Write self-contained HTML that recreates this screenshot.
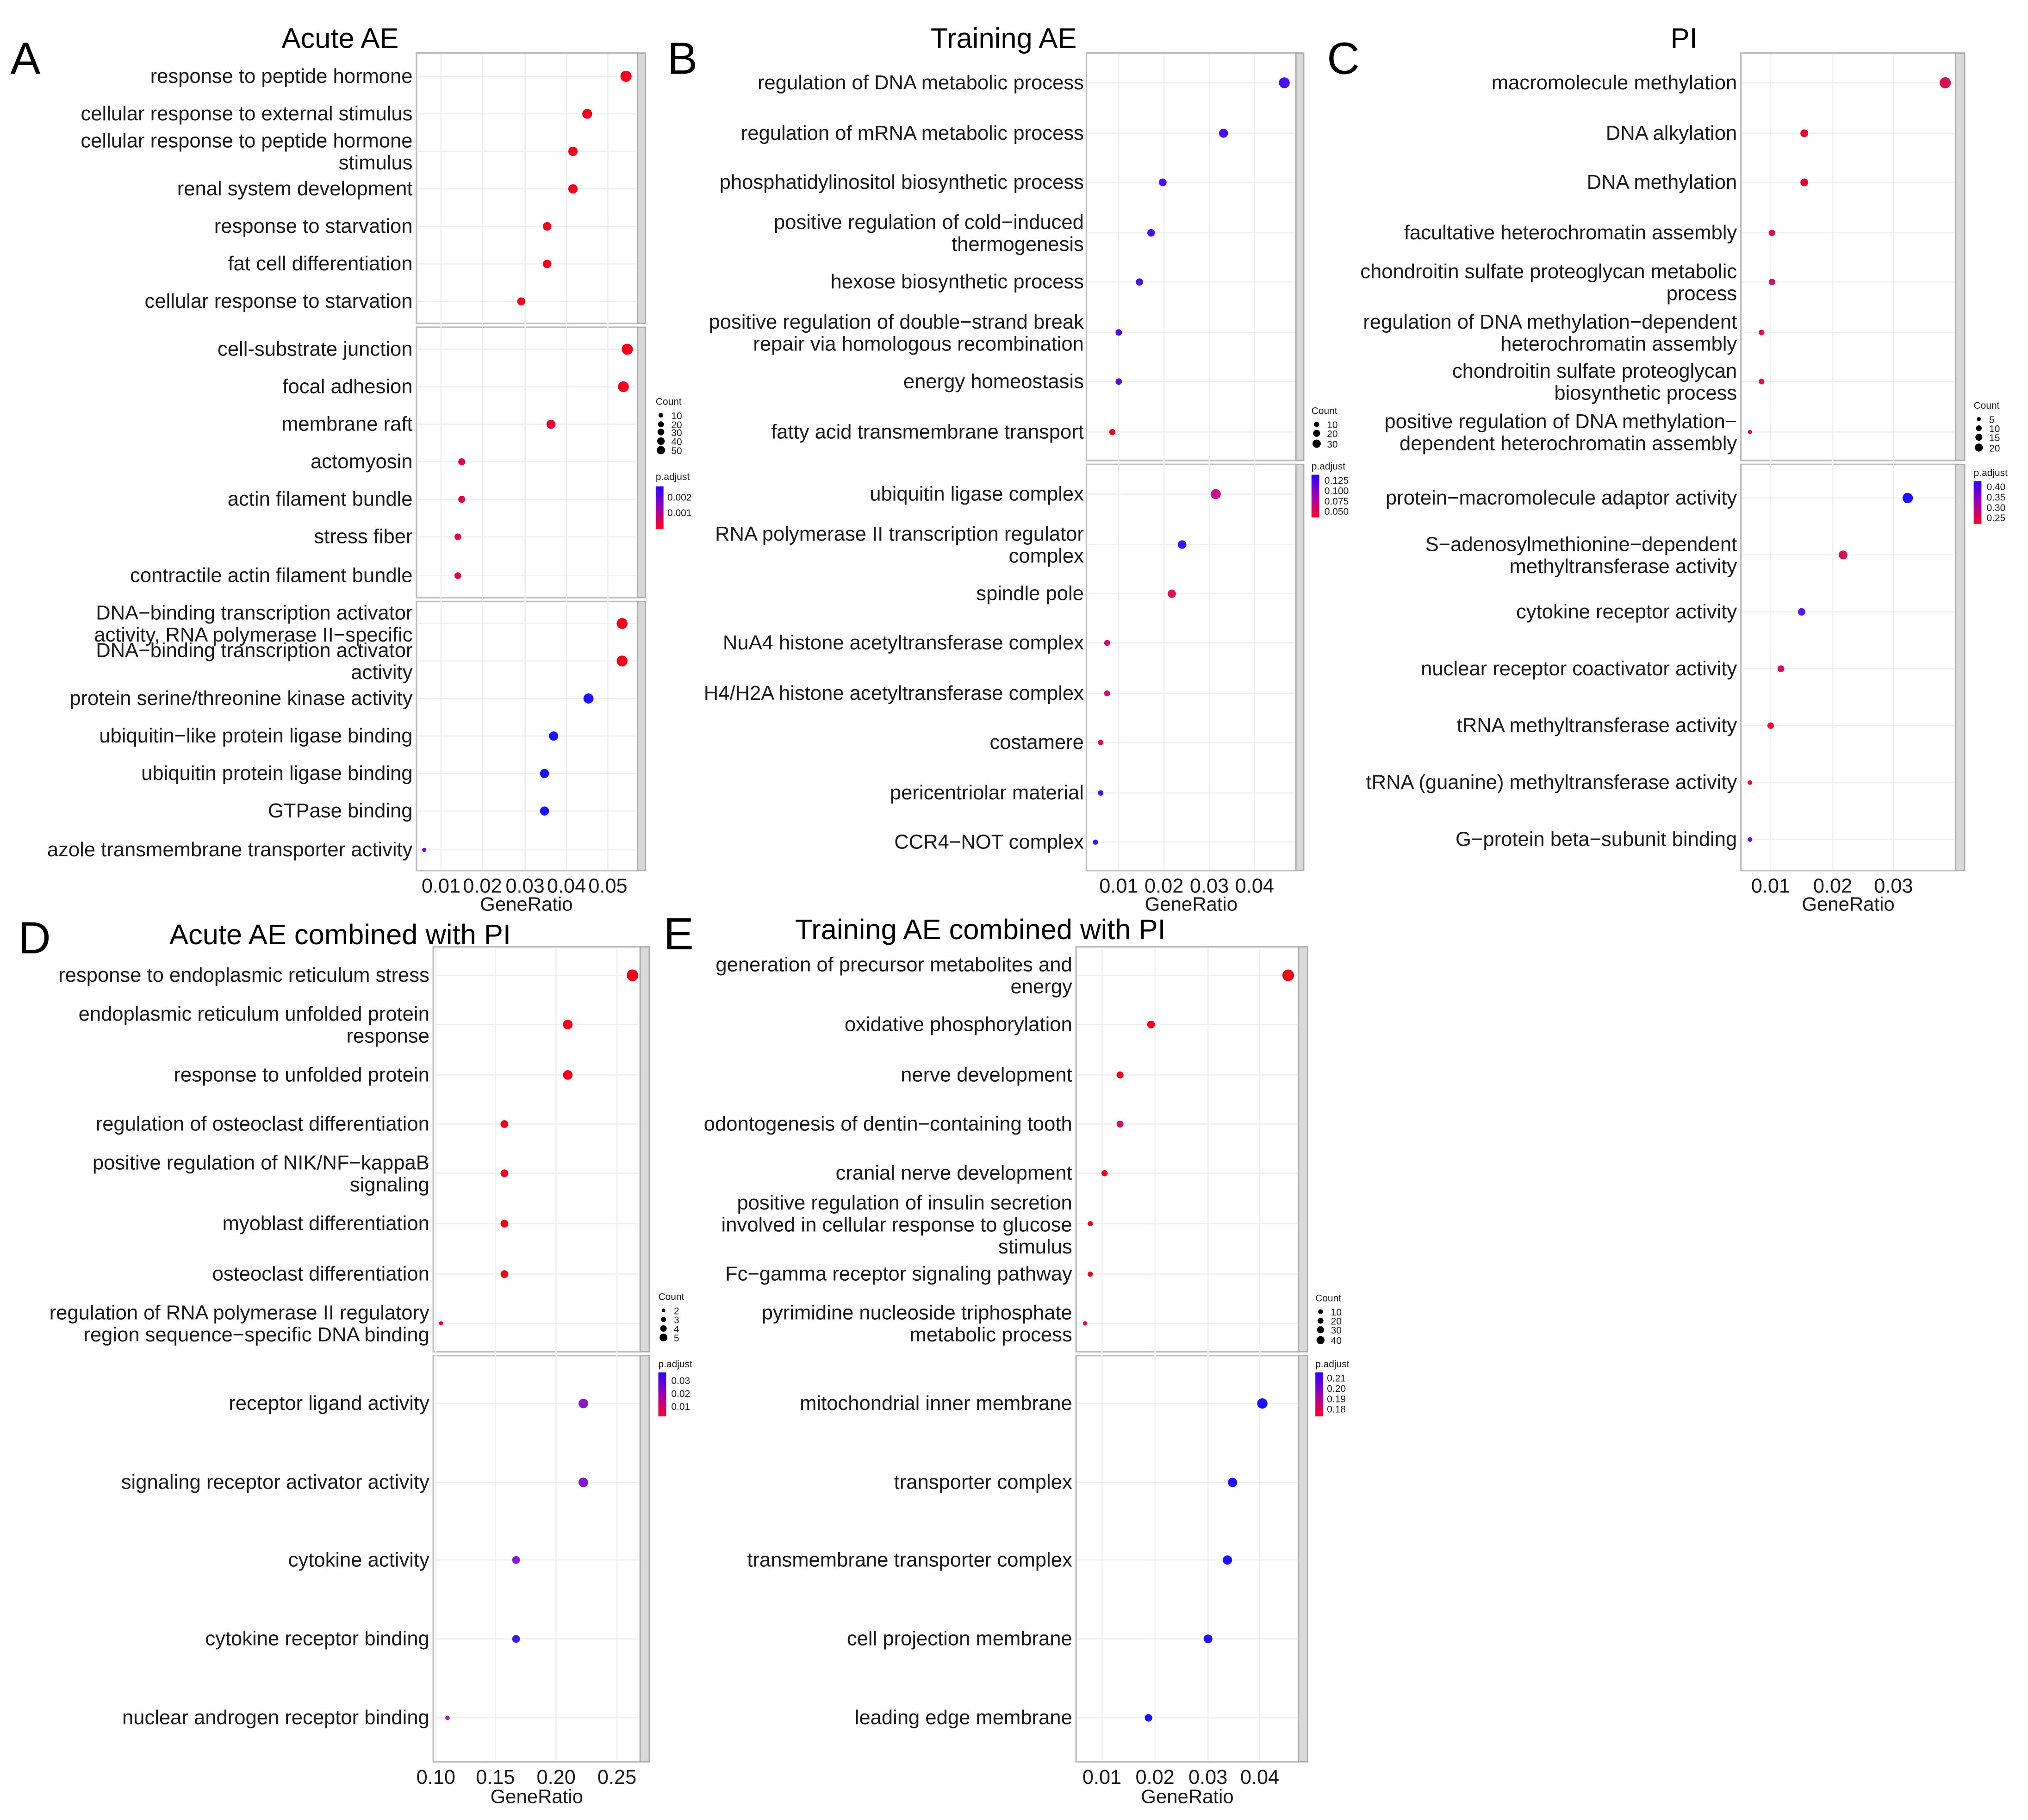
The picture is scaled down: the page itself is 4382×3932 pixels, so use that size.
<!DOCTYPE html>
<html><head><meta charset="utf-8"><style>
html,body{margin:0;padding:0;background:#fff;}
svg{display:block}
text{font-family:"Liberation Sans",Arial,sans-serif;fill:#1a1a1a}
.l{font-size:15.6px;text-anchor:end}
.t{font-size:22px;text-anchor:middle;fill:#000}
.k{font-size:15.5px;text-anchor:middle}
.x{font-size:15px;text-anchor:middle}
.P{font-size:35px;fill:#000}
.g{font-size:7.5px}
.pn{fill:#fff;stroke:#bdbdbd;stroke-width:1.2}
.st{fill:#d9d9d9;stroke:#ababab;stroke-width:1}
.gr{stroke:#f0f0f0;stroke-width:1}
</style></head><body>
<svg width="4382" height="3932" viewBox="0 0 1568 1407" preserveAspectRatio="none" xmlns="http://www.w3.org/2000/svg">
<defs>
<linearGradient id="pg" x1="0" y1="0" x2="0" y2="1"><stop offset="0" stop-color="#2a00ff"/><stop offset="0.5" stop-color="#a000b0"/><stop offset="1" stop-color="#ff0020"/></linearGradient>
</defs>
<rect width="1568" height="1407" fill="#fff"/>

<!-- ===== Panel A ===== -->
<text class="P" x="8" y="57">A</text>
<text class="t" x="263" y="37">Acute AE</text>
<rect class="pn" x="322" y="41" width="171" height="209"/><rect class="st" x="493" y="41" width="6" height="209"/>
<rect class="pn" x="322" y="253" width="171" height="209"/><rect class="st" x="493" y="253" width="6" height="209"/>
<rect class="pn" x="322" y="465" width="171" height="208"/><rect class="st" x="493" y="465" width="6" height="208"/>
<g class="gr">
<line x1="341" y1="42" x2="341" y2="672"/><line x1="373" y1="42" x2="373" y2="672"/><line x1="406" y1="42" x2="406" y2="672"/><line x1="438" y1="42" x2="438" y2="672"/><line x1="470" y1="42" x2="470" y2="672"/>
<line x1="323" y1="59" x2="492" y2="59"/><line x1="323" y1="88" x2="492" y2="88"/><line x1="323" y1="117" x2="492" y2="117"/><line x1="323" y1="146" x2="492" y2="146"/><line x1="323" y1="175" x2="492" y2="175"/><line x1="323" y1="204" x2="492" y2="204"/><line x1="323" y1="233" x2="492" y2="233"/>
<line x1="323" y1="270" x2="492" y2="270"/><line x1="323" y1="299" x2="492" y2="299"/><line x1="323" y1="328" x2="492" y2="328"/><line x1="323" y1="357" x2="492" y2="357"/><line x1="323" y1="386" x2="492" y2="386"/><line x1="323" y1="415" x2="492" y2="415"/><line x1="323" y1="445" x2="492" y2="445"/>
<line x1="323" y1="482" x2="492" y2="482"/><line x1="323" y1="511" x2="492" y2="511"/><line x1="323" y1="540" x2="492" y2="540"/><line x1="323" y1="569" x2="492" y2="569"/><line x1="323" y1="598" x2="492" y2="598"/><line x1="323" y1="627" x2="492" y2="627"/><line x1="323" y1="657" x2="492" y2="657"/>
</g>
<text class="l" x="319" y="64">response to peptide hormone</text>
<text class="l" x="319" y="93">cellular response to external stimulus</text>
<text class="l" x="319" y="114">cellular response to peptide hormone</text>
<text class="l" x="319" y="131">stimulus</text>
<text class="l" x="319" y="151">renal system development</text>
<text class="l" x="319" y="180">response to starvation</text>
<text class="l" x="319" y="209">fat cell differentiation</text>
<text class="l" x="319" y="238">cellular response to starvation</text>
<text class="l" x="319" y="275">cell-substrate junction</text>
<text class="l" x="319" y="304">focal adhesion</text>
<text class="l" x="319" y="333">membrane raft</text>
<text class="l" x="319" y="362">actomyosin</text>
<text class="l" x="319" y="391">actin filament bundle</text>
<text class="l" x="319" y="420">stress fiber</text>
<text class="l" x="319" y="450">contractile actin filament bundle</text>
<text class="l" x="319" y="479">DNA−binding transcription activator</text>
<text class="l" x="319" y="496">activity, RNA polymerase II−specific</text>
<text class="l" x="319" y="508">DNA−binding transcription activator</text>
<text class="l" x="319" y="525">activity</text>
<text class="l" x="319" y="545">protein serine/threonine kinase activity</text>
<text class="l" x="319" y="574">ubiquitin−like protein ligase binding</text>
<text class="l" x="319" y="603">ubiquitin protein ligase binding</text>
<text class="l" x="319" y="632">GTPase binding</text>
<text class="l" x="319" y="662">azole transmembrane transporter activity</text>
<g>
<circle cx="484" cy="59" r="4.3" fill="#f2001c"/><circle cx="454" cy="88" r="3.8" fill="#f2001c"/><circle cx="443" cy="117" r="3.6" fill="#f2001c"/><circle cx="443" cy="146" r="3.6" fill="#f2001c"/><circle cx="423" cy="175" r="3.3" fill="#f2001c"/><circle cx="423" cy="204" r="3.3" fill="#f2001c"/><circle cx="403" cy="233" r="3.1" fill="#f2001c"/>
<circle cx="485" cy="270" r="4.3" fill="#f2001c"/><circle cx="482" cy="299" r="4.2" fill="#f2001c"/><circle cx="426" cy="328" r="3.5" fill="#e80035"/><circle cx="357" cy="357" r="2.7" fill="#e0004c"/><circle cx="357" cy="386" r="2.7" fill="#e0004c"/><circle cx="354" cy="415" r="2.6" fill="#e0004c"/><circle cx="354" cy="445" r="2.6" fill="#e0004c"/>
<circle cx="481" cy="482" r="4.2" fill="#f2001c"/><circle cx="481" cy="511" r="4.2" fill="#f2001c"/><circle cx="455" cy="540" r="3.9" fill="#1a12ff"/><circle cx="428" cy="569" r="3.6" fill="#1a12ff"/><circle cx="421" cy="598" r="3.5" fill="#1a12ff"/><circle cx="421" cy="627" r="3.5" fill="#1a12ff"/><circle cx="328" cy="657" r="1.6" fill="#8000e0"/>
</g>
<g class="k"><text x="341" y="690">0.01</text><text x="373" y="690">0.02</text><text x="406" y="690">0.03</text><text x="438" y="690">0.04</text><text x="470" y="690">0.05</text></g>
<text class="x" x="407" y="704">GeneRatio</text>
<text class="g" x="507" y="313">Count</text>
<g class="g"><circle cx="511" cy="321" r="1.8" fill="#000"/><text x="519" y="324">10</text><circle cx="511" cy="328" r="2.3" fill="#000"/><text x="519" y="331">20</text><circle cx="511" cy="334" r="2.6" fill="#000"/><text x="519" y="337">30</text><circle cx="511" cy="341" r="2.9" fill="#000"/><text x="519" y="344">40</text><circle cx="511" cy="348" r="3.2" fill="#000"/><text x="519" y="351">50</text></g>
<text class="g" x="507" y="371">p.adjust</text><rect x="507" y="376" width="6" height="33" fill="url(#pg)"/>
<text class="g" x="516" y="387">0.002</text><text class="g" x="516" y="399">0.001</text>

<!-- ===== Panel B ===== -->
<text class="P" x="516" y="57">B</text>
<text class="t" x="776" y="37">Training AE</text>
<rect class="pn" x="840" y="41" width="162" height="315"/><rect class="st" x="1002" y="41" width="6" height="315"/>
<rect class="pn" x="840" y="359" width="162" height="314"/><rect class="st" x="1002" y="359" width="6" height="314"/>
<g class="gr">
<line x1="865" y1="42" x2="865" y2="672"/><line x1="900" y1="42" x2="900" y2="672"/><line x1="935" y1="42" x2="935" y2="672"/><line x1="970" y1="42" x2="970" y2="672"/>
<line x1="841" y1="64" x2="1001" y2="64"/><line x1="841" y1="103" x2="1001" y2="103"/><line x1="841" y1="141" x2="1001" y2="141"/><line x1="841" y1="180" x2="1001" y2="180"/><line x1="841" y1="218" x2="1001" y2="218"/><line x1="841" y1="257" x2="1001" y2="257"/><line x1="841" y1="295" x2="1001" y2="295"/><line x1="841" y1="334" x2="1001" y2="334"/>
<line x1="841" y1="382" x2="1001" y2="382"/><line x1="841" y1="421" x2="1001" y2="421"/><line x1="841" y1="459" x2="1001" y2="459"/><line x1="841" y1="497" x2="1001" y2="497"/><line x1="841" y1="536" x2="1001" y2="536"/><line x1="841" y1="574" x2="1001" y2="574"/><line x1="841" y1="613" x2="1001" y2="613"/><line x1="841" y1="651" x2="1001" y2="651"/>
</g>
<text class="l" x="838" y="69">regulation of DNA metabolic process</text>
<text class="l" x="838" y="108">regulation of mRNA metabolic process</text>
<text class="l" x="838" y="146">phosphatidylinositol biosynthetic process</text>
<text class="l" x="838" y="177">positive regulation of cold−induced</text>
<text class="l" x="838" y="194">thermogenesis</text>
<text class="l" x="838" y="223">hexose biosynthetic process</text>
<text class="l" x="838" y="254">positive regulation of double−strand break</text>
<text class="l" x="838" y="271">repair via homologous recombination</text>
<text class="l" x="838" y="300">energy homeostasis</text>
<text class="l" x="838" y="339">fatty acid transmembrane transport</text>
<text class="l" x="838" y="387">ubiquitin ligase complex</text>
<text class="l" x="838" y="418">RNA polymerase II transcription regulator</text>
<text class="l" x="838" y="435">complex</text>
<text class="l" x="838" y="464">spindle pole</text>
<text class="l" x="838" y="502">NuA4 histone acetyltransferase complex</text>
<text class="l" x="838" y="541">H4/H2A histone acetyltransferase complex</text>
<text class="l" x="838" y="579">costamere</text>
<text class="l" x="838" y="618">pericentriolar material</text>
<text class="l" x="838" y="656">CCR4−NOT complex</text>
<g>
<circle cx="993" cy="64" r="4.2" fill="#4a0cf0"/><circle cx="946" cy="103" r="3.5" fill="#4a0cf0"/><circle cx="899" cy="141" r="3" fill="#4a0cf0"/><circle cx="890" cy="180" r="2.9" fill="#4a0cf0"/><circle cx="881" cy="218" r="2.8" fill="#4a0cf0"/><circle cx="865" cy="257" r="2.5" fill="#4a0cf0"/><circle cx="865" cy="295" r="2.5" fill="#5a0ce0"/><circle cx="860" cy="334" r="2.4" fill="#f0001f"/>
<circle cx="940" cy="382" r="3.9" fill="#c8108a"/><circle cx="914" cy="421" r="3.3" fill="#2a18ff"/><circle cx="906" cy="459" r="3.2" fill="#e0104a"/><circle cx="856" cy="497" r="2.3" fill="#d01070"/><circle cx="856" cy="536" r="2.3" fill="#d01070"/><circle cx="851" cy="574" r="2.1" fill="#e0104a"/><circle cx="851" cy="613" r="2.1" fill="#3a18ff"/><circle cx="847" cy="651" r="2" fill="#3a18ff"/>
</g>
<g class="k"><text x="865" y="690">0.01</text><text x="900" y="690">0.02</text><text x="935" y="690">0.03</text><text x="970" y="690">0.04</text></g>
<text class="x" x="921" y="704">GeneRatio</text>
<text class="g" x="1014" y="320">Count</text>
<g class="g"><circle cx="1018" cy="328" r="2" fill="#000"/><text x="1026" y="331">10</text><circle cx="1018" cy="335" r="2.7" fill="#000"/><text x="1026" y="338">20</text><circle cx="1018" cy="343" r="3.2" fill="#000"/><text x="1026" y="346">30</text></g>
<text class="g" x="1014" y="363">p.adjust</text><rect x="1014" y="367" width="6" height="33" fill="url(#pg)"/>
<text class="g" x="1024" y="374">0.125</text><text class="g" x="1024" y="382">0.100</text><text class="g" x="1024" y="390">0.075</text><text class="g" x="1024" y="398">0.050</text>

<!-- ===== Panel C ===== -->
<text class="P" x="1026" y="57">C</text>
<text class="t" x="1302" y="37">PI</text>
<rect class="pn" x="1346" y="41" width="166" height="315"/><rect class="st" x="1512" y="41" width="7" height="315"/>
<rect class="pn" x="1346" y="359" width="166" height="314"/><rect class="st" x="1512" y="359" width="7" height="314"/>
<g class="gr">
<line x1="1369" y1="42" x2="1369" y2="672"/><line x1="1417" y1="42" x2="1417" y2="672"/><line x1="1464" y1="42" x2="1464" y2="672"/>
<line x1="1347" y1="64" x2="1511" y2="64"/><line x1="1347" y1="103" x2="1511" y2="103"/><line x1="1347" y1="141" x2="1511" y2="141"/><line x1="1347" y1="180" x2="1511" y2="180"/><line x1="1347" y1="218" x2="1511" y2="218"/><line x1="1347" y1="257" x2="1511" y2="257"/><line x1="1347" y1="295" x2="1511" y2="295"/><line x1="1347" y1="334" x2="1511" y2="334"/>
<line x1="1347" y1="385" x2="1511" y2="385"/><line x1="1347" y1="429" x2="1511" y2="429"/><line x1="1347" y1="473" x2="1511" y2="473"/><line x1="1347" y1="517" x2="1511" y2="517"/><line x1="1347" y1="561" x2="1511" y2="561"/><line x1="1347" y1="605" x2="1511" y2="605"/><line x1="1347" y1="649" x2="1511" y2="649"/>
</g>
<text class="l" x="1343" y="69">macromolecule methylation</text>
<text class="l" x="1343" y="108">DNA alkylation</text>
<text class="l" x="1343" y="146">DNA methylation</text>
<text class="l" x="1343" y="185">facultative heterochromatin assembly</text>
<text class="l" x="1343" y="215">chondroitin sulfate proteoglycan metabolic</text>
<text class="l" x="1343" y="232">process</text>
<text class="l" x="1343" y="254">regulation of DNA methylation−dependent</text>
<text class="l" x="1343" y="271">heterochromatin assembly</text>
<text class="l" x="1343" y="292">chondroitin sulfate proteoglycan</text>
<text class="l" x="1343" y="309">biosynthetic process</text>
<text class="l" x="1343" y="331">positive regulation of DNA methylation−</text>
<text class="l" x="1343" y="348">dependent heterochromatin assembly</text>
<text class="l" x="1343" y="390">protein−macromolecule adaptor activity</text>
<text class="l" x="1343" y="426">S−adenosylmethionine−dependent</text>
<text class="l" x="1343" y="443">methyltransferase activity</text>
<text class="l" x="1343" y="478">cytokine receptor activity</text>
<text class="l" x="1343" y="522">nuclear receptor coactivator activity</text>
<text class="l" x="1343" y="566">tRNA methyltransferase activity</text>
<text class="l" x="1343" y="610">tRNA (guanine) methyltransferase activity</text>
<text class="l" x="1343" y="654">G−protein beta−subunit binding</text>
<g>
<circle cx="1504" cy="64" r="4.3" fill="#d8104e"/><circle cx="1395" cy="103" r="3" fill="#e80030"/><circle cx="1395" cy="141" r="3" fill="#e80030"/><circle cx="1370" cy="180" r="2.5" fill="#e0104a"/><circle cx="1370" cy="218" r="2.5" fill="#d81060"/><circle cx="1362" cy="257" r="2.2" fill="#e0104a"/><circle cx="1362" cy="295" r="2.2" fill="#e0104a"/><circle cx="1353" cy="334" r="1.6" fill="#e80030"/>
<circle cx="1475" cy="385" r="4" fill="#1a12ff"/><circle cx="1425" cy="429" r="3.4" fill="#d8105a"/><circle cx="1393" cy="473" r="2.9" fill="#5a18f0"/><circle cx="1377" cy="517" r="2.6" fill="#d0106a"/><circle cx="1369" cy="561" r="2.5" fill="#e8102a"/><circle cx="1353" cy="605" r="1.8" fill="#e8102a"/><circle cx="1353" cy="649" r="1.8" fill="#7010e0"/>
</g>
<g class="k"><text x="1369" y="690">0.01</text><text x="1417" y="690">0.02</text><text x="1464" y="690">0.03</text></g>
<text class="x" x="1429" y="704">GeneRatio</text>
<text class="g" x="1526" y="316">Count</text>
<g class="g"><circle cx="1530" cy="324" r="1.6" fill="#000"/><text x="1538" y="327">5</text><circle cx="1530" cy="331" r="2.2" fill="#000"/><text x="1538" y="334">10</text><circle cx="1530" cy="338" r="2.7" fill="#000"/><text x="1538" y="341">15</text><circle cx="1530" cy="346" r="3.1" fill="#000"/><text x="1538" y="349">20</text></g>
<text class="g" x="1526" y="368">p.adjust</text><rect x="1526" y="372" width="6" height="33" fill="url(#pg)"/>
<text class="g" x="1536" y="379">0.40</text><text class="g" x="1536" y="387">0.35</text><text class="g" x="1536" y="395">0.30</text><text class="g" x="1536" y="403">0.25</text>

<!-- ===== Panel D ===== -->
<text class="P" x="14" y="737">D</text>
<text class="t" x="263" y="730">Acute AE combined with  PI</text>
<rect class="pn" x="335" y="732" width="160" height="313"/><rect class="st" x="495" y="732" width="7" height="313"/>
<rect class="pn" x="335" y="1048" width="160" height="314"/><rect class="st" x="495" y="1048" width="7" height="314"/>
<g class="gr">
<line x1="337" y1="733" x2="337" y2="1361"/><line x1="383" y1="733" x2="383" y2="1361"/><line x1="430" y1="733" x2="430" y2="1361"/><line x1="477" y1="733" x2="477" y2="1361"/>
<line x1="336" y1="754" x2="494" y2="754"/><line x1="336" y1="792" x2="494" y2="792"/><line x1="336" y1="831" x2="494" y2="831"/><line x1="336" y1="869" x2="494" y2="869"/><line x1="336" y1="907" x2="494" y2="907"/><line x1="336" y1="946" x2="494" y2="946"/><line x1="336" y1="985" x2="494" y2="985"/><line x1="336" y1="1023" x2="494" y2="1023"/>
<line x1="336" y1="1085" x2="494" y2="1085"/><line x1="336" y1="1146" x2="494" y2="1146"/><line x1="336" y1="1206" x2="494" y2="1206"/><line x1="336" y1="1267" x2="494" y2="1267"/><line x1="336" y1="1328" x2="494" y2="1328"/>
</g>
<text class="l" x="332" y="759">response to endoplasmic reticulum stress</text>
<text class="l" x="332" y="789">endoplasmic reticulum unfolded protein</text>
<text class="l" x="332" y="806">response</text>
<text class="l" x="332" y="836">response to unfolded protein</text>
<text class="l" x="332" y="874">regulation of osteoclast differentiation</text>
<text class="l" x="332" y="904">positive regulation of NIK/NF−kappaB</text>
<text class="l" x="332" y="921">signaling</text>
<text class="l" x="332" y="951">myoblast differentiation</text>
<text class="l" x="332" y="990">osteoclast differentiation</text>
<text class="l" x="332" y="1020">regulation of RNA polymerase II regulatory</text>
<text class="l" x="332" y="1037">region sequence−specific DNA binding</text>
<text class="l" x="332" y="1090">receptor ligand activity</text>
<text class="l" x="332" y="1151">signaling receptor activator activity</text>
<text class="l" x="332" y="1211">cytokine activity</text>
<text class="l" x="332" y="1272">cytokine receptor binding</text>
<text class="l" x="332" y="1333">nuclear androgen receptor binding</text>
<g>
<circle cx="489" cy="754" r="4.5" fill="#f2001c"/><circle cx="439" cy="792" r="3.7" fill="#f2001c"/><circle cx="439" cy="831" r="3.7" fill="#f2001c"/><circle cx="390" cy="869" r="3" fill="#f2001c"/><circle cx="390" cy="907" r="3" fill="#f2001c"/><circle cx="390" cy="946" r="3" fill="#f2001c"/><circle cx="390" cy="985" r="3" fill="#f2001c"/><circle cx="341" cy="1023" r="1.6" fill="#f2001c"/>
<circle cx="451" cy="1085" r="3.7" fill="#8a18c8"/><circle cx="451" cy="1146" r="3.7" fill="#8a18c8"/><circle cx="399" cy="1206" r="3" fill="#8a18d0"/><circle cx="399" cy="1267" r="3" fill="#3a18f0"/><circle cx="346" cy="1328" r="1.7" fill="#9a18b0"/>
</g>
<g class="k"><text x="337" y="1379">0.10</text><text x="383" y="1379">0.15</text><text x="430" y="1379">0.20</text><text x="477" y="1379">0.25</text></g>
<text class="x" x="415" y="1394">GeneRatio</text>
<text class="g" x="509" y="1005">Count</text>
<g class="g"><circle cx="513" cy="1013" r="1.4" fill="#000"/><text x="521" y="1016">2</text><circle cx="513" cy="1020" r="2" fill="#000"/><text x="521" y="1023">3</text><circle cx="513" cy="1027" r="2.5" fill="#000"/><text x="521" y="1030">4</text><circle cx="513" cy="1034" r="3" fill="#000"/><text x="521" y="1037">5</text></g>
<text class="g" x="509" y="1057">p.adjust</text><rect x="509" y="1061" width="6" height="34" fill="url(#pg)"/>
<text class="g" x="519" y="1070">0.03</text><text class="g" x="519" y="1080">0.02</text><text class="g" x="519" y="1090">0.01</text>

<!-- ===== Panel E ===== -->
<text class="P" x="513" y="734">E</text>
<text class="t" x="758" y="726">Training AE combined with PI</text>
<rect class="pn" x="832" y="732" width="172" height="313"/><rect class="st" x="1004" y="732" width="7" height="313"/>
<rect class="pn" x="832" y="1048" width="172" height="314"/><rect class="st" x="1004" y="1048" width="7" height="314"/>
<g class="gr">
<line x1="852" y1="733" x2="852" y2="1361"/><line x1="893" y1="733" x2="893" y2="1361"/><line x1="934" y1="733" x2="934" y2="1361"/><line x1="974" y1="733" x2="974" y2="1361"/>
<line x1="833" y1="754" x2="1003" y2="754"/><line x1="833" y1="792" x2="1003" y2="792"/><line x1="833" y1="831" x2="1003" y2="831"/><line x1="833" y1="869" x2="1003" y2="869"/><line x1="833" y1="907" x2="1003" y2="907"/><line x1="833" y1="946" x2="1003" y2="946"/><line x1="833" y1="985" x2="1003" y2="985"/><line x1="833" y1="1023" x2="1003" y2="1023"/>
<line x1="833" y1="1085" x2="1003" y2="1085"/><line x1="833" y1="1146" x2="1003" y2="1146"/><line x1="833" y1="1206" x2="1003" y2="1206"/><line x1="833" y1="1267" x2="1003" y2="1267"/><line x1="833" y1="1328" x2="1003" y2="1328"/>
</g>
<text class="l" x="829" y="751">generation of precursor metabolites and</text>
<text class="l" x="829" y="768">energy</text>
<text class="l" x="829" y="797">oxidative phosphorylation</text>
<text class="l" x="829" y="836">nerve development</text>
<text class="l" x="829" y="874">odontogenesis of dentin−containing tooth</text>
<text class="l" x="829" y="912">cranial nerve development</text>
<text class="l" x="829" y="935">positive regulation of insulin secretion</text>
<text class="l" x="829" y="952">involved in cellular response to glucose</text>
<text class="l" x="829" y="969">stimulus</text>
<text class="l" x="829" y="990">Fc−gamma receptor signaling pathway</text>
<text class="l" x="829" y="1020">pyrimidine nucleoside triphosphate</text>
<text class="l" x="829" y="1037">metabolic process</text>
<text class="l" x="829" y="1090">mitochondrial inner membrane</text>
<text class="l" x="829" y="1151">transporter complex</text>
<text class="l" x="829" y="1211">transmembrane transporter complex</text>
<text class="l" x="829" y="1272">cell projection membrane</text>
<text class="l" x="829" y="1333">leading edge membrane</text>
<g>
<circle cx="996" cy="754" r="4.5" fill="#f2001c"/><circle cx="890" cy="792" r="3" fill="#f2001c"/><circle cx="866" cy="831" r="2.7" fill="#f2001c"/><circle cx="866" cy="869" r="2.7" fill="#d0106a"/><circle cx="854" cy="907" r="2.4" fill="#f2001c"/><circle cx="843" cy="946" r="2" fill="#f2001c"/><circle cx="843" cy="985" r="2" fill="#f2001c"/><circle cx="839" cy="1023" r="1.7" fill="#e0104a"/>
<circle cx="976" cy="1085" r="4" fill="#1a12ff"/><circle cx="953" cy="1146" r="3.6" fill="#1a12ff"/><circle cx="949" cy="1206" r="3.6" fill="#1a12ff"/><circle cx="934" cy="1267" r="3.4" fill="#1a12ff"/><circle cx="888" cy="1328" r="2.9" fill="#1a12ff"/>
</g>
<g class="k"><text x="852" y="1379">0.01</text><text x="893" y="1379">0.02</text><text x="934" y="1379">0.03</text><text x="974" y="1379">0.04</text></g>
<text class="x" x="918" y="1394">GeneRatio</text>
<text class="g" x="1017" y="1006">Count</text>
<g class="g"><circle cx="1021" cy="1014" r="1.8" fill="#000"/><text x="1029" y="1017">10</text><circle cx="1021" cy="1021" r="2.3" fill="#000"/><text x="1029" y="1024">20</text><circle cx="1021" cy="1028" r="2.7" fill="#000"/><text x="1029" y="1031">30</text><circle cx="1021" cy="1036" r="3.1" fill="#000"/><text x="1029" y="1039">40</text></g>
<text class="g" x="1017" y="1057">p.adjust</text><rect x="1017" y="1061" width="6" height="34" fill="url(#pg)"/>
<text class="g" x="1026" y="1068">0.21</text><text class="g" x="1026" y="1076">0.20</text><text class="g" x="1026" y="1084">0.19</text><text class="g" x="1026" y="1092">0.18</text>
</svg>
</body></html>
